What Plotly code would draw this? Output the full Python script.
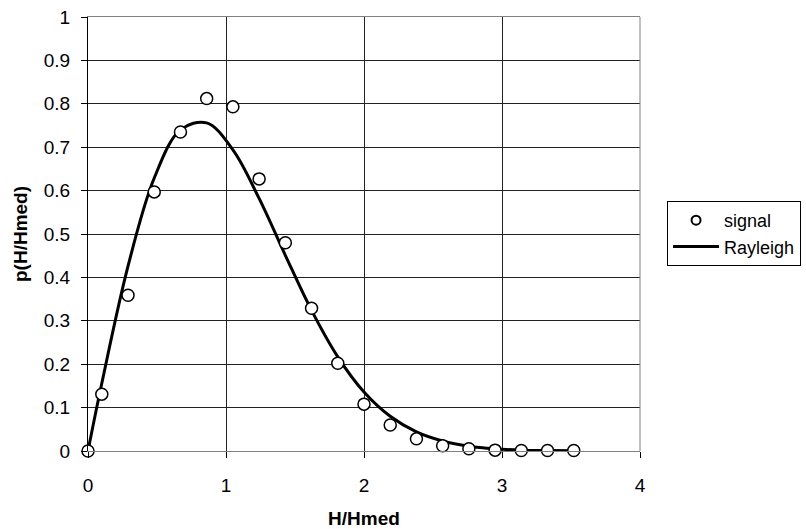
import plotly.graph_objects as go

# H/Hmed bin positions
h_ratio = [0, 0.10, 0.29, 0.48, 0.67, 0.86, 1.05, 1.24, 1.43, 1.62, 1.81,
           2.00, 2.19, 2.38, 2.57, 2.76, 2.95, 3.14, 3.33, 3.52]
# measured signal distribution
signal = [0, 0.131, 0.359, 0.597, 0.735, 0.812, 0.793, 0.627, 0.480, 0.329,
          0.202, 0.108, 0.060, 0.028, 0.012, 0.005, 0.002, 0.001, 0.001, 0.001]
# Rayleigh curve values
rayleigh = [0, 0.156, 0.426, 0.629, 0.740, 0.756, 0.694, 0.582, 0.451, 0.324,
            0.217, 0.136, 0.080, 0.044, 0.023, 0.011, 0.005, 0.002, 0.001, 0.0003]

x_ticks = [0, 1, 2, 3, 4]
y_ticks = [0, 0.1, 0.2, 0.3, 0.4, 0.5, 0.6, 0.7, 0.8, 0.9, 1]

FONT = "Liberation Sans, Arial, sans-serif"

fig = go.Figure()
fig.add_trace(go.Scatter(
    x=h_ratio, y=rayleigh, name="Rayleigh", mode="lines",
    line=dict(color="black", width=3, shape="spline", smoothing=1.0),
    showlegend=False, cliponaxis=False,
))
fig.add_trace(go.Scatter(
    x=h_ratio, y=signal, name="signal", mode="markers",
    marker=dict(symbol="circle", size=12, color="white",
                line=dict(color="black", width=1.5)),
    showlegend=False, cliponaxis=False,
))
# legend entries (smaller symbols as in the original legend)
fig.add_trace(go.Scatter(
    x=[None], y=[None], name="signal", mode="markers",
    marker=dict(symbol="circle", size=9, color="white",
                line=dict(color="black", width=2)),
    legendrank=1,
))
fig.add_trace(go.Scatter(
    x=[None], y=[None], name="Rayleigh", mode="lines",
    line=dict(color="black", width=3),
    legendrank=2,
))

fig.update_layout(
    width=806, height=529,
    margin=dict(l=88, r=166, t=17, b=78, autoexpand=False),
    paper_bgcolor="white", plot_bgcolor="white",
    font=dict(family=FONT, size=19, color="black"),
    legend=dict(
        x=1.049, y=0.576, xanchor="left", yanchor="top",
        bordercolor="black", borderwidth=1, bgcolor="white",
        font=dict(family=FONT, size=18, color="black"),
        itemwidth=46, tracegroupgap=0,
    ),
    xaxis=dict(
        range=[0, 4], tickvals=x_ticks, ticktext=[str(v) for v in x_ticks],
        showgrid=True, gridcolor="#222222", gridwidth=1,
        showline=True, linecolor="#808080", linewidth=1, mirror=True,
        ticks="outside", ticklen=6, tickcolor="black",
        ticklabelstandoff=11, automargin=False,
        zeroline=False,
        title=dict(text="<b>H/Hmed</b>", font=dict(family=FONT, size=19), standoff=20),
    ),
    yaxis=dict(
        range=[0, 1], tickvals=y_ticks, ticktext=[("%g" % v) for v in y_ticks],
        showgrid=True, gridcolor="#222222", gridwidth=1,
        showline=True, linecolor="black", linewidth=1,
        ticks="outside", ticklen=6, tickcolor="black",
        ticklabelstandoff=7, automargin=False,
        zeroline=False,
        title=dict(text="<b>p(H/Hmed)</b>", font=dict(family=FONT, size=19), standoff=11),
    ),
    shapes=[dict(type="line", xref="paper", yref="paper", x0=1, x1=1, y0=0, y1=1,
                 line=dict(color="#808080", width=1))],
)

fig.write_html("out.html")
